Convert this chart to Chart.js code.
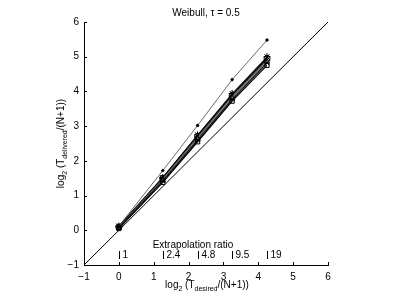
<!DOCTYPE html>
<html><head><meta charset="utf-8">
<script src="https://cdn.jsdelivr.net/npm/chart.js@4"></script>
<style>html,body{margin:0;padding:0;background:#fff}#w{width:398px;height:300px}</style>
</head><body><div id="w"><canvas id="c" width="398" height="300"></canvas></div>
<script>
const xPositions = [0, 1.26, 2.26, 3.25, 4.25];
const ratioLabels = ['1', '2.4', '4.8', '9.5', '19'];
const seriesStar = [0.12, 1.52, 2.75, 3.94, 5.0];
const seriesCircle = [0.10, 1.50, 2.71, 3.89, 4.95];
const seriesDiamond = [0.09, 1.47, 2.67, 3.85, 4.90];
const seriesTriangle = [0.07, 1.44, 2.63, 3.81, 4.86];
const seriesCross = [0.09, 1.42, 2.60, 3.77, 4.82];
const seriesSquare = [0.05, 1.38, 2.55, 3.72, 4.75];
const seriesDots = [0.12, 1.72, 3.02, 4.34, 5.48];
const diagonal = [-1, 6];
const axisTicks = [-1, 0, 1, 2, 3, 4, 5, 6];

const FONT = '"Liberation Sans", Arial, sans-serif';
function pts(ys){ return xPositions.map((x,i)=>({x:x,y:ys[i]})); }
function ds(ys, style, color, lw, r){
  return {data:pts(ys), showLine:true, borderColor:color, borderWidth:lw,
    pointStyle:style, pointRadius:r, pointBorderColor:'#000', pointBackgroundColor:'rgba(255,255,255,0)',
    pointBorderWidth:1, pointHoverRadius:r};
}
const datasets = [
  {data:diagonal.map(v=>({x:v,y:v})), showLine:true, borderColor:'#000', borderWidth:1, pointRadius:0},
  ds(seriesDots, 'circle', '#444', 0.8, 1.2),
  ds(seriesSquare, 'rect', '#000', 1.2, 3),
  ds(seriesCross, 'crossRot', '#222', 1.5, 3),
  ds(seriesTriangle, 'triangle', '#888', 1.2, 3),
  ds(seriesDiamond, 'rectRot', '#555', 1.5, 3),
  ds(seriesCircle, 'circle', '#000', 2, 3),
  ds(seriesStar, 'star', '#333', 1, 3.5)
];
datasets[1].pointBackgroundColor = '#000';

function runs(ctx, parts, x, y, align){
  let w = 0;
  parts.forEach(p=>{ ctx.font = (p[1]?'7px ':'10px ')+FONT; w += ctx.measureText(p[0]).width; });
  let cx = align==='center' ? x - w/2 : x;
  parts.forEach(p=>{
    ctx.font = (p[1]?'7px ':'10px ')+FONT;
    ctx.fillText(p[0], cx, y + (p[1]?3:0));
    cx += ctx.measureText(p[0]).width;
  });
}

const deco = {
  id:'deco',
  afterDraw(chart){
    const ctx = chart.ctx, xs = chart.scales.x, ys = chart.scales.y;
    const a = chart.chartArea;
    ctx.save();
    ctx.strokeStyle = '#000'; ctx.lineWidth = 1;
    axisTicks.forEach(v=>{
      const px = Math.round(xs.getPixelForValue(v))+0.5;
      ctx.beginPath(); ctx.moveTo(px, a.bottom); ctx.lineTo(px, a.bottom-3); ctx.stroke();
      const py = Math.round(ys.getPixelForValue(v))+0.5;
      ctx.beginPath(); ctx.moveTo(a.left, py); ctx.lineTo(a.left+3, py); ctx.stroke();
    });
    ctx.fillStyle = '#000';
    ctx.textBaseline = 'alphabetic';
    ctx.font = '10px '+FONT;
    xPositions.forEach((v,i)=>{
      const px = Math.round(xs.getPixelForValue(v))+0.5;
      ctx.beginPath(); ctx.moveTo(px, 251); ctx.lineTo(px, 259); ctx.stroke();
      ctx.textAlign = 'left';
      ctx.fillText(ratioLabels[i], px+3, 258);
    });
    ctx.textAlign = 'center';
    ctx.fillText('Extrapolation ratio', xs.getPixelForValue((xPositions[0]+xPositions[4])/2), 248);
    ctx.fillText('Weibull, \u03c4 = 0.5', (a.left+a.right)/2, 16);
    ctx.textAlign = 'left';
    runs(ctx, [['log'],['2',1],[' (T'],['desired',1],['/(N+1))']], (a.left+a.right)/2+1, 288, 'center');
    ctx.translate(64, (a.top+a.bottom)/2);
    ctx.rotate(-Math.PI/2);
    runs(ctx, [['log'],['2',1],[' (T'],['delivered',1],['/(N+1))']], 0, 0, 'center');
    ctx.restore();
  }
};

new Chart(document.getElementById('c'), {
  type:'scatter',
  data:{datasets:datasets},
  options:{
    responsive:false, animation:false, devicePixelRatio:1,
    layout:{padding:{left:0, right:70, top:22, bottom:0}},
    plugins:{legend:{display:false}, tooltip:{enabled:false}},
    elements:{line:{tension:0}},
    scales:{
      x:{type:'linear', min:-1, max:6,
        afterFit(s){ s.height = 35; },
        grid:{display:false, drawTicks:false},
        border:{display:true, color:'#000', width:1},
        ticks:{stepSize:1, padding:6, color:'#000', font:{family:FONT, size:10},
          callback:v=>String(v).replace('-', '\u2212')}
      },
      y:{type:'linear', min:-1, max:6,
        afterFit(s){ s.width = 84; },
        grid:{display:false, drawTicks:false},
        border:{display:true, color:'#000', width:1},
        ticks:{stepSize:1, padding:5, color:'#000', font:{family:FONT, size:10},
          callback:v=>String(v).replace('-', '\u2212')}
      }
    }
  },
  plugins:[deco]
});
</script>
</body></html>
